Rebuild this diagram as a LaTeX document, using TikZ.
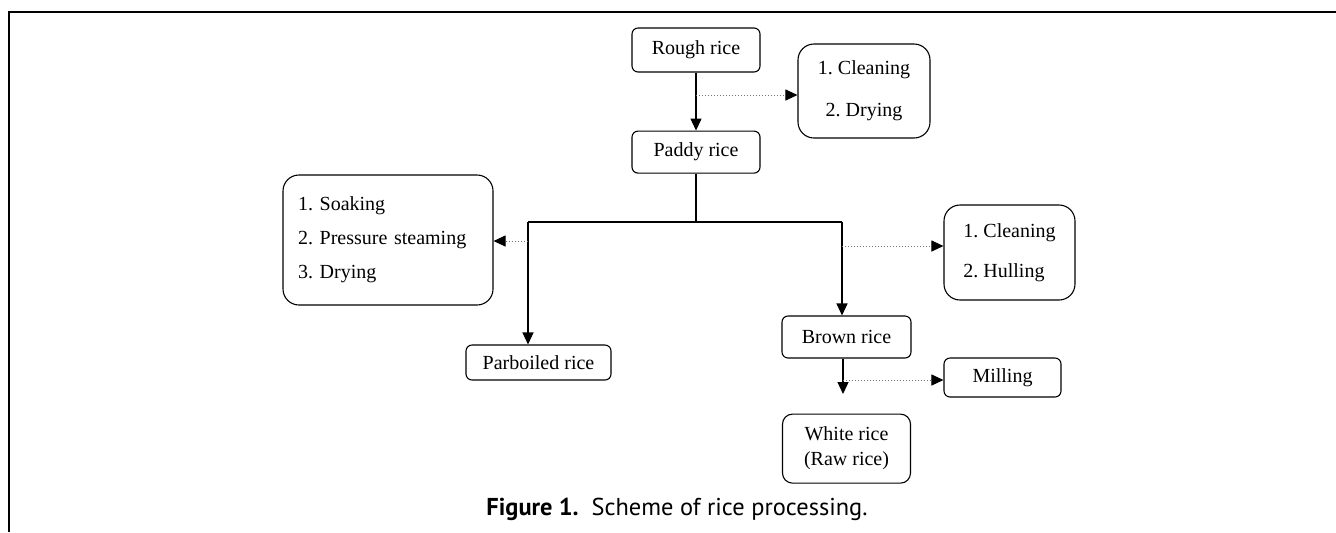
\documentclass[tikz,border=0pt]{standalone}
\usepackage{fontspec}
\setmainfont{Liberation Serif}
\setsansfont{PT Sans}
\usetikzlibrary{arrows.meta, positioning}
\frenchspacing

\begin{document}
\begin{tikzpicture}[
		x=0.5pt, y=-0.5pt,
		every node/.style={font=\fontsize{10}{12}\selectfont},
		box/.style={rounded corners=3pt, draw, line width=0.55pt, minimum width=64pt, minimum height=21pt, align=center, inner sep=2pt},
		bigbox/.style={rounded corners=8pt, draw, line width=0.55pt, inner sep=2pt},
		link/.style={line width=0.6pt},
		arrow/.style={-{Triangle[length=6pt, width=5.5pt]}, line width=0.6pt},
		dotarrow/.style={-{Triangle[length=6pt, width=5.5pt, black]}, draw=black!55, densely dotted, line width=0.5pt}
	]
		\useasboundingbox (0,0) rectangle (1336,532);
		% frame
		\draw[line width=0.7pt] (9,532) -- (9,12) -- (1336,12);

		% main column
		\node[box, minimum height=22pt] (rough) at (696,50) {Rough rice};
		\node[box, below=29pt of rough] (paddy) {Paddy rice};
		\node[bigbox, minimum width=66pt, minimum height=47pt, align=center] (dry) at (864,91) {1. Cleaning\\[9pt]2. Drying};

		% left branch
		\node[bigbox, minimum width=105pt, minimum height=65pt, align=left, text width=90pt] (soak) at (388,240) {1. Soaking\\[5pt]2. Pressure steaming\\[5pt]3. Drying};
		\node[box, minimum width=72.5pt, minimum height=17.5pt] (parboiled) at (538.5,362.5) {Parboiled rice};

		% right branch
		\node[bigbox, minimum width=65.5pt, minimum height=47.5pt, align=left] (hull) at (1009.5,252.5) {1. Cleaning\\[8pt]2. Hulling};
		\node[box, minimum width=64.5pt] (brown) at (846.5,337) {Brown rice};
		\node[box, minimum width=58.5pt, minimum height=19.5pt] (milling) at (1002.5,377.5) {Milling};
		\node[box, rounded corners=5pt, below=27.5pt of brown, minimum width=64pt, minimum height=34.5pt] (white) {White rice\\[0.5pt](Raw rice)};

		\node[font=\sffamily\fontsize{12.2}{14}\selectfont] (caption) at (677,509) {\textbf{Figure 1.}\ \ Scheme of rice processing.};

		\coordinate (split) at (696,222);
		\coordinate (lbend) at (528,222);
		\coordinate (rbend) at (842,222);
		\coordinate (t1) at (696,95);
		\coordinate (t2) at (528,241);
		\coordinate (t3) at (842,246);
		\coordinate (t4) at (843,380);
		\coordinate (wend) at (843,394);

		\draw[arrow] (rough) -- (paddy);
		\draw[link] (paddy) -- (split);
		\draw[link] (lbend) -- (rbend);
		\draw[arrow] (lbend) -- (lbend |- parboiled.north);
		\draw[arrow] (rbend) -- (rbend |- brown.north);
		\draw[arrow] (brown.south -| wend) -- (wend);

		\draw[dotarrow] (t1) -- (t1 -| dry.west);
		\draw[dotarrow] (t2) -- (t2 -| soak.east);
		\draw[dotarrow] (t3) -- (t3 -| hull.west);
		\draw[dotarrow] (t4) -- (t4 -| milling.west);
	\end{tikzpicture}
\end{document}
